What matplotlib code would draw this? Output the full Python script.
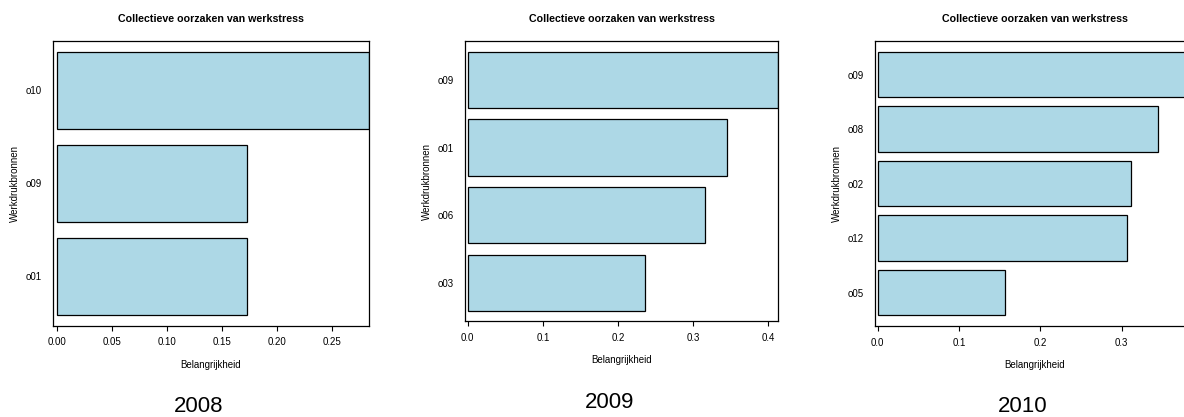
import matplotlib
matplotlib.use("Agg")
import matplotlib.pyplot as plt
import numpy as np

plt.rcParams['font.family'] = ['Liberation Sans', 'DejaVu Sans']

title = "Collectieve oorzaken van werkstress"
xlabel = "Belangrijkheid"
ylabel = "Werkdrukbronnen"
years = ["2008", "2009", "2010"]

# categories listed bottom to top
cats_2008 = ["o01", "o09", "o10"]
vals_2008 = [0.173, 0.173, 0.284]
cats_2009 = ["o03", "o06", "o01", "o09"]
vals_2009 = [0.236, 0.316, 0.345, 0.413]
cats_2010 = ["o05", "o12", "o02", "o08", "o09"]
vals_2010 = [0.156, 0.307, 0.311, 0.344, 0.390]

ticks_2008 = [0.00, 0.05, 0.10, 0.15, 0.20, 0.25]
ticks_2009 = [0.0, 0.1, 0.2, 0.3, 0.4]
ticks_2010 = [0.0, 0.1, 0.2, 0.3]
tickfmt = ["{:.2f}", "{:.1f}", "{:.1f}"]

W, H = 1184, 417
fig = plt.figure(figsize=(W / 100, H / 100), dpi=100)

# panel boxes in pixels: left, right, top, bottom ; xlim
panels = [
    dict(box=(53, 369, 41.2, 325.7), xlim=(-0.0034, 0.284), cap=(199, 407)),
    dict(box=(465, 778.3, 41.3, 321.4), xlim=(-0.0036, 0.4133), cap=(610, 402)),
    dict(box=(875, 1195, 41.3, 326), xlim=(-0.0033, 0.390), cap=(1023, 407)),
]
cats_all = [cats_2008, cats_2009, cats_2010]
vals_all = [vals_2008, vals_2009, vals_2010]
ticks_all = [ticks_2008, ticks_2009, ticks_2010]

for i, p in enumerate(panels):
    l, r, t, b = p["box"]
    ax = fig.add_axes([l / W, 1 - b / H, (r - l) / W, (b - t) / H])
    cats = cats_all[i]
    vals = vals_all[i]
    n = len(cats)
    ypos = 0.2 + 1.2 * np.arange(n) + 0.5
    ax.barh(ypos, vals, height=1.0, color="#ADD8E6", edgecolor="black", linewidth=0.9)
    lo, hi = 0.2, 1.2 * n
    ext = 0.04 * (hi - lo)
    ax.set_ylim(lo - ext, hi + ext)
    ax.set_xlim(*p["xlim"])
    ax.set_yticks(ypos)
    ax.set_yticklabels(cats)
    ax.tick_params(axis="y", length=0, pad=8, labelsize=7)
    tk = ticks_all[i]
    ax.set_xticks(tk)
    ax.set_xticklabels([tickfmt[i].format(v) for v in tk])
    ax.tick_params(axis="x", direction="out", length=3.3, width=0.8, pad=5, labelsize=7)
    for s in ax.spines.values():
        s.set_linewidth(0.9)
    cx = (l + r) / 2
    fig.text(cx / W, 1 - 19 / H, title, ha="center", va="center", fontsize=7.7, fontweight="bold")
    fig.text(cx / W, 1 - (b + 39) / H, xlabel, ha="center", va="center", fontsize=7)
    fig.text((l - 38) / W, 1 - ((t + b) / 2) / H, ylabel, ha="center", va="center",
             rotation=90, fontsize=7)
    fig.text(p["cap"][0] / W, 1 - p["cap"][1] / H, years[i], ha="center", va="center", fontsize=16)

fig.savefig("out.png", dpi=100)
